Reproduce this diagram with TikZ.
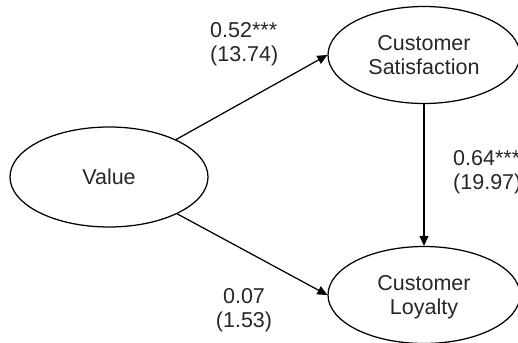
\documentclass[tikz,border=0pt]{standalone}
\usepackage{fontspec}
\setmainfont{Liberation Sans}
\usetikzlibrary{shapes.geometric,arrows.meta}
\begin{document}
\begin{tikzpicture}[x=1pt,y=-1pt,
  every node/.style={font=\fontsize{21.5pt}{24.5pt}\selectfont, text=black!85},
  construct/.style={ellipse, draw, line width=1.25pt, inner sep=0pt, align=center, text depth=0pt},
  coef/.style={inner sep=0pt},
  path/.style={line width=1.25pt, -{Triangle[length=10pt,width=9pt]}}]
\useasboundingbox (0,0) rectangle (518,342);
\node[construct, minimum width=198pt, minimum height=100pt] (v) at (109,177) {Value};
\node[construct, minimum width=192pt, minimum height=97pt] (cs) at (424,55) {Customer\\Satisfaction};
\node[construct, minimum width=192pt, minimum height=97pt] (cl) at (424,295) {Customer\\Loyalty};
\draw[path] (v) -- (cs.west);
\draw[path] (v) -- (cl.west);
\draw[path] (cs.south) -- (cl.north);
\node[coef, align=left, anchor=west] (l1) at (210,44) {0.52***\\(13.74)};
\node[coef, align=left, anchor=west] (l2) at (453,172) {0.64***\\(19.97)};
\node[coef, align=center] (l3) at (244,310) {0.07\\(1.53)};
\end{tikzpicture}
\end{document}
